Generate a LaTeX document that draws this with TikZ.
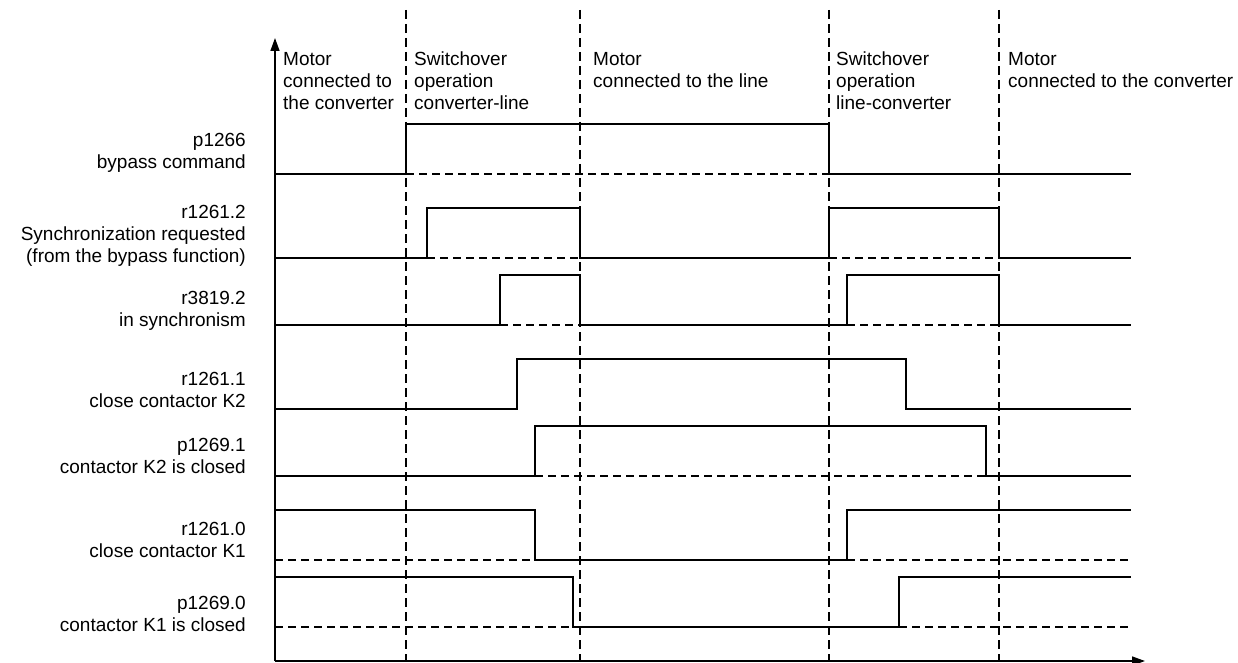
\documentclass[tikz,border=0pt]{standalone}
\usepackage{fontspec}
\setmainfont{Liberation Sans}
\usetikzlibrary{arrows.meta,positioning}
\tikzset{
signal/.style={
  draw=black,
  line width=1.5pt
},
reference/.style={
  draw=black,
  line width=1.5pt,
  dash pattern=on 8pt off 5pt
},
marker/.style={
  draw=black,
  line width=1.6pt,
  dash pattern=on 9pt off 5pt
},
axis/.style={
  draw=black,
  line width=1.5pt,
  -{Triangle[length=13pt,width=9pt]}
},
rowlabel/.style={
  anchor=south east,
  align=right,
  inner sep=0pt,
  text depth=0pt,
  font=\fontsize{19}{22}\selectfont
},
phaselabel/.style={
  anchor=north west,
  align=left,
  inner sep=0pt,
  font=\fontsize{19}{22}\selectfont
}
}
\begin{document}
\begin{tikzpicture}[x=1pt,y=-1pt]
  \useasboundingbox (0,0) rectangle (1238,663);
  % axes
  \coordinate (origin) at (275,661);
  \coordinate (ytop) at (275,38);
  \coordinate (xend) at (1145,661);
  % switching instants
  \foreach \x in {406,580,829,999}
    \draw[marker] (\x,10) -- (\x,661);
  \draw[axis] (origin) -- (ytop);
  \draw[axis] (origin) -- (xend);
  % phases
  \node[phaselabel] (phconvone) at (283,52) {Motor\\connected to\\the converter};
  \node[phaselabel] (phswone) at (414,52) {Switchover\\operation\\converter-line};
  \node[phaselabel] (phline) at (593,52) {Motor\\connected to the line};
  \node[phaselabel] (phswtwo) at (836,52) {Switchover\\operation\\line-converter};
  \node[phaselabel] (phconvtwo) at (1008,52) {Motor\\connected to the converter};
  % signal names
  \node[rowlabel] (lblbypass) at (246,169) {p1266\\bypass command};
  \node[rowlabel] (lblsyncreq) at (246,263) {r1261.2\\Synchronization requested\\(from the bypass function)};
  \node[rowlabel] (lblinsync) at (246,327) {r3819.2\\in synchronism};
  \node[rowlabel] (lblclosektwo) at (246,408) {r1261.1\\close contactor K2};
  \node[rowlabel] (lblktwoclosed) at (246,474) {p1269.1\\contactor K2 is closed};
  \node[rowlabel] (lblclosekone) at (246,558) {r1261.0\\close contactor K1};
  \node[rowlabel] (lblkoneclosed) at (246,632) {p1269.0\\contactor K1 is closed};
  % p1266
  \draw[reference] (406,174) -- (829,174);
  \draw[signal] (275,174) -- (406,174) -- (406,124) -- (829,124) -- (829,174) -- (1131,174);
  % r1261.2
  \draw[reference] (427,258) -- (580,258) (829,258) -- (999,258);
  \draw[signal] (275,258) -- (427,258) -- (427,208) -- (580,208) -- (580,258) -- (829,258)
    -- (829,208) -- (999,208) -- (999,258) -- (1131,258);
  % r3819.2
  \draw[reference] (500,325) -- (580,325) (847,325) -- (999,325);
  \draw[signal] (275,325) -- (500,325) -- (500,275) -- (580,275) -- (580,325) -- (847,325)
    -- (847,275) -- (999,275) -- (999,325) -- (1131,325);
  % r1261.1
  \draw[signal] (275,409) -- (517,409) -- (517,359) -- (906,359) -- (906,409) -- (1131,409);
  % p1269.1
  \draw[reference] (535,476) -- (986,476);
  \draw[signal] (275,476) -- (535,476) -- (535,426) -- (986,426) -- (986,476) -- (1131,476);
  % r1261.0
  \draw[reference] (275,560) -- (535,560) (847,560) -- (1131,560);
  \draw[signal] (275,510) -- (535,510) -- (535,560) -- (847,560) -- (847,510) -- (1131,510);
  % p1269.0
  \draw[reference] (275,627) -- (573,627) (899,627) -- (1131,627);
  \draw[signal] (275,577) -- (573,577) -- (573,627) -- (899,627) -- (899,577) -- (1131,577);
\end{tikzpicture}
\end{document}
